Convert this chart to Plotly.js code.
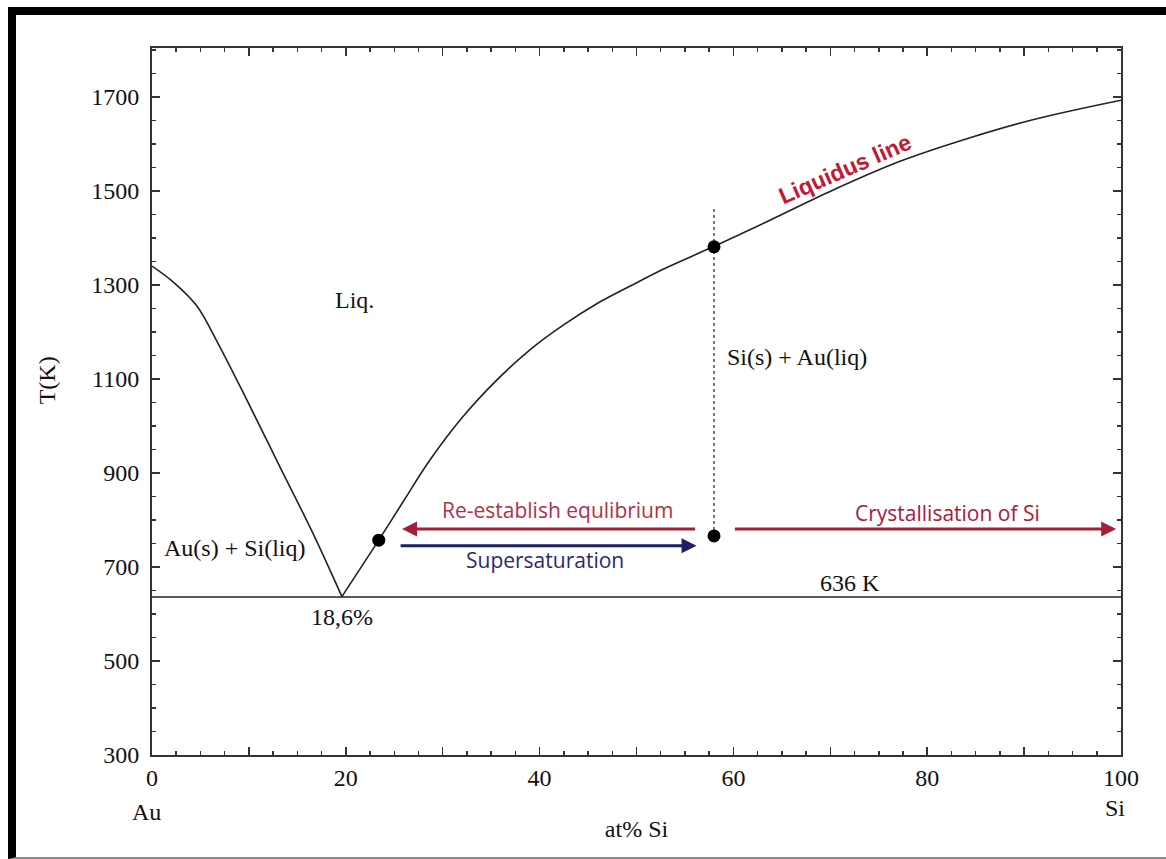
<!DOCTYPE html>
<html>
<head>
<meta charset="utf-8">
<script src="https://cdn.plot.ly/plotly-3.0.1.min.js"></script>
<style>
  html, body { margin: 0; padding: 0; background: #fff; }
  #wrap { position: relative; width: 1166px; height: 859px; overflow: hidden; }
  #chart { width: 1166px; height: 859px; }
  #frame { position: absolute; left: 8px; top: 7px; width: 1158px; height: 852px;
           box-sizing: border-box; border-left: 8px solid #000; border-top: 8px solid #000;
           border-bottom: 2px solid #8a8a8a; pointer-events: none; }
</style>
</head>
<body>
<div id="wrap">
  <div id="chart"></div>
  <div id="frame"></div>
</div>
<script>
// Liquidus, Au-rich branch (at% Si, T in K)
const liqLeftX = [0, 2.2, 4.6, 6.7, 9.8, 13.2, 16.6, 19.6];
const liqLeftT = [1340, 1306, 1256, 1180, 1055, 913, 772, 637];
// Liquidus, Si-rich branch
const liqRightX = [19.6, 23.4, 25.8, 28.7, 32.1, 35.6, 39.0, 42.4, 45.9, 49.3, 52.8, 57.9, 63.4, 70.3, 77.2, 84.1, 91.0, 100];
const liqRightT = [637, 757, 835, 928, 1020, 1098, 1162, 1214, 1260, 1297, 1334, 1381, 1434, 1502, 1563, 1611, 1652, 1693];
// Eutectic isotherm
const eutecticX = [0, 100];
const eutecticT = [636, 636];
// Marked states
const dotX = [23.4, 58.0, 58.0];
const dotT = [757, 766, 1381];
// Vertical dotted guide at 58 at% Si
const guideX = [58.0, 58.0];
const guideT = [766, 1467];
// Process arrows: [fromX, toX, T]
const arrowReestablish = [56.2, 25.8, 781];
const arrowSupersat = [25.5, 56.2, 745];
const arrowCrystal = [60.0, 99.5, 781];
// Tick labels
const xTickVals = [0, 10, 20, 30, 40, 50, 60, 70, 80, 90, 100];
const xTickText = ["0", "", "20", "", "40", "", "60", "", "80", "", "100"];
const yTickVals = [300, 500, 700, 900, 1100, 1300, 1500, 1700];
const yTickText = ["300", "500", "700", "900", "1100", "1300", "1500", "1700"];

const serif = "Liberation Serif, Times New Roman, serif";
const sans = "Open Sans, Lato, sans-serif";

const traces = [
  { x: liqLeftX, y: liqLeftT, mode: "lines", line: { color: "#222", width: 1.6, shape: "spline", smoothing: 1 }, hoverinfo: "skip" },
  { x: liqRightX, y: liqRightT, mode: "lines", line: { color: "#222", width: 1.6, shape: "spline", smoothing: 1 }, hoverinfo: "skip" },
  { x: eutecticX, y: eutecticT, mode: "lines", line: { color: "#222", width: 1.6 }, hoverinfo: "skip" },
  { x: guideX, y: guideT, mode: "lines", line: { color: "#555", width: 1.6, dash: "dot" }, hoverinfo: "skip" },
  { x: dotX, y: dotT, mode: "markers", marker: { color: "#000", size: 13 }, hoverinfo: "skip" }
];

function arrow(a, color) {
  return { x: a[1], y: a[2], ax: a[0], ay: a[2], xref: "x", yref: "y", axref: "x", ayref: "y",
           text: "", showarrow: true, arrowhead: 2, arrowsize: 1, arrowwidth: 3, arrowcolor: color };
}

const annotations = [
  arrow(arrowReestablish, "#a3203c"),
  arrow(arrowSupersat, "#1e1f66"),
  arrow(arrowCrystal, "#a3203c"),
  { x: 20.9, y: 1268, text: "Liq.", showarrow: false, font: { family: serif, size: 24, color: "#111" } },
  { x: 8.6, y: 740, text: "Au(s) + Si(liq)", showarrow: false, font: { family: serif, size: 24, color: "#111" } },
  { x: 19.6, y: 594, text: "18,6%", showarrow: false, font: { family: serif, size: 24, color: "#111" } },
  { x: 72.0, y: 666, text: "636 K", showarrow: false, font: { family: serif, size: 24, color: "#111" } },
  { x: 66.6, y: 1147, text: "Si(s) + Au(liq)", showarrow: false, font: { family: serif, size: 24, color: "#111" } },
  { x: 71.5, y: 1547, text: "<b>Liquidus line</b>", showarrow: false, textangle: -23.5, font: { family: "Liberation Sans, Arial, sans-serif", size: 23, color: "#c21a35" } },
  { x: 41.8, y: 821, text: "Re-establish equlibrium", showarrow: false, font: { family: sans, size: 21, color: "#b3304b" } },
  { x: 40.6, y: 715, text: "Supersaturation", showarrow: false, font: { family: sans, size: 21, color: "#2a2a72" } },
  { x: 82.1, y: 815, text: "Crystallisation of Si", showarrow: false, font: { family: sans, size: 21, color: "#a3203c" } },
  { x: 0, y: -0.081, xref: "x", yref: "paper", yanchor: "middle", text: "Au", showarrow: false, xshift: -6, font: { family: serif, size: 24, color: "#111" } },
  { x: 100, y: -0.075, xref: "x", yref: "paper", yanchor: "middle", text: "Si", showarrow: false, xshift: -6, font: { family: serif, size: 24, color: "#111" } },
  { x: 0, y: 0.530, xref: "paper", yref: "paper", xanchor: "center", yanchor: "middle", xshift: -105, textangle: -90, text: "T(K)", showarrow: false, font: { family: serif, size: 24, color: "#111" } }
];

const axisCommon = {
  showline: true, linecolor: "#333", linewidth: 2, mirror: "allticks",
  ticks: "inside", tickcolor: "#333", tickwidth: 1.5, ticklen: 8,
  showgrid: false, zeroline: false,
  tickfont: { family: serif, size: 24, color: "#111" }
};

const layout = {
  width: 1166, height: 859,
  margin: { l: 152, r: 45, t: 48, b: 104 },
  paper_bgcolor: "#fff", plot_bgcolor: "#fff",
  showlegend: false,
  xaxis: Object.assign({}, axisCommon, {
    range: [0, 100], tickmode: "array", tickvals: xTickVals, ticktext: xTickText,
    minor: { dtick: 2.5, ticks: "inside", ticklen: 4, tickcolor: "#333", tickwidth: 1.5 },
    ticklabelstandoff: 0,
    title: { text: "at% Si", font: { family: serif, size: 24, color: "#111" }, standoff: 30 }
  }),
  yaxis: Object.assign({}, axisCommon, {
    range: [300, 1804], tickmode: "array", tickvals: yTickVals, ticktext: yTickText,
    minor: { dtick: 50, tick0: 300, ticks: "inside", ticklen: 4, tickcolor: "#333", tickwidth: 1.5 },
    ticklabelstandoff: 6
  }),
  annotations: annotations
};

Plotly.newPlot("chart", traces, layout, { staticPlot: true, displayModeBar: false });
</script>
</body>
</html>
